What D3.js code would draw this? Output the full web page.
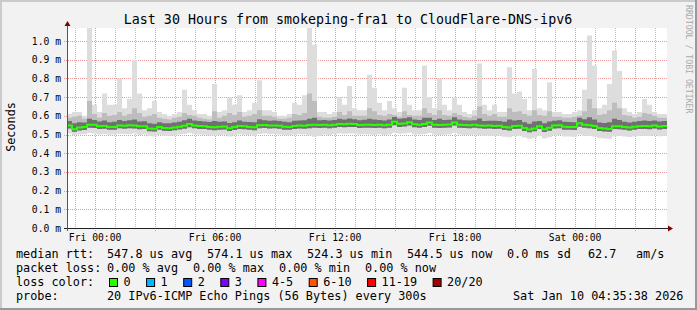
<!DOCTYPE html>
<html>
<head>
<meta charset="utf-8">
<script src="https://cdn.jsdelivr.net/npm/d3@7"></script>
<style>
body { margin: 0; background: #f2f2f2; }
text { font-family: "DejaVu Sans Mono", monospace; white-space: pre; }
</style>
</head>
<body>
<script>
// ping data, one value per 15 minutes, in microseconds
var medianUs = [548,528,538,540,553,552,545,546,541,540,
  549,547,550,549,544,545,532,531,540,535,
  534,538,542,547,556,549,546,545,541,539,
  542,543,534,540,546,544,541,539,550,551,
  548,549,547,542,541,546,548,547,551,552,
  551,553,550,552,556,555,558,557,551,553,
  552,551,553,550,552,568,558,559,566,555,
  553,556,564,553,551,552,554,565,553,551,
  550,552,549,547,548,546,547,540,538,546,
  547,535,527,532,545,528,536,548,550,542,
  541,540,561,552,550,546,535,532,530,545,
  544,541,538,542,545,546,544,548,543,546];

var minUs = [505,498,500,502,508,506,500,503,499,500,
  504,503,502,505,498,500,492,490,497,494,
  493,496,500,503,508,502,500,499,496,495,
  498,499,490,496,501,499,497,494,503,505,
  502,503,500,496,495,500,502,500,495,488,
  492,500,498,502,505,504,506,505,500,502,
  500,498,502,498,500,508,504,505,510,502,
  500,503,508,500,498,499,501,509,500,498,
  497,499,496,494,495,493,494,488,486,494,
  495,484,478,483,492,479,486,495,497,490,
  489,488,500,494,492,490,482,479,478,490,
  492,489,487,490,493,494,492,496,491,494];

var p25Us = [532,515,522,524,536,535,530,531,526,525,
  533,531,534,532,528,529,518,516,525,520,
  519,523,527,531,539,533,530,529,525,523,
  526,527,519,524,530,528,525,523,534,535,
  532,533,531,526,525,530,532,531,534,536,
  535,537,534,536,540,539,541,540,535,537,
  536,535,537,534,536,550,541,543,549,539,
  537,540,547,537,535,536,538,548,537,535,
  534,536,533,531,532,530,531,524,522,530,
  531,519,512,517,529,513,520,532,534,526,
  525,524,542,536,534,530,519,516,515,529,
  528,525,522,526,529,530,528,532,527,530];

var p75Us = [572,560,566,565,585,578,570,575,566,568,
  578,572,576,580,570,571,560,558,566,561,
  560,565,568,576,584,575,572,570,567,572,
  568,570,562,566,575,569,567,566,582,577,
  574,575,572,568,566,574,575,576,585,590,
  576,578,575,578,584,580,586,582,577,579,
  584,580,578,575,580,594,584,587,592,580,
  578,590,590,578,585,578,579,592,580,576,
  575,577,586,573,574,574,572,568,580,575,
  578,566,558,570,572,560,570,574,576,568,
  567,566,590,582,592,580,565,562,566,585,
  578,568,565,568,573,575,572,575,570,572];

var p90Us = [590,595,600,585,680,610,590,615,600,605,
  620,600,610,640,615,595,600,610,590,585,
  580,590,595,615,605,600,590,585,580,625,
  590,600,615,605,620,595,600,610,630,600,
  600,595,585,585,590,610,605,615,720,680,
  595,590,590,595,620,605,625,600,600,600,
  640,625,605,600,610,605,595,625,605,600,
  600,640,615,605,630,605,600,615,605,595,
  590,600,650,610,600,610,595,595,640,620,
  625,610,600,630,605,600,625,595,595,590,
  590,595,600,625,690,640,605,610,630,670,
  640,605,600,590,595,615,610,600,590,590];

var maxUs = [610,620,620,600,1080,660,620,720,660,660,
  800,640,690,900,720,630,640,680,620,610,
  600,610,620,740,660,630,610,610,600,770,
  620,630,700,660,710,620,630,670,790,630,
  630,620,600,600,610,670,660,710,1080,980,
  620,620,610,620,700,660,760,640,630,630,
  820,750,670,630,680,640,620,750,660,630,
  630,870,700,640,800,660,630,700,660,620,
  610,630,880,660,630,660,620,620,860,720,
  730,690,630,850,640,630,780,620,620,610,
  610,620,630,740,1030,870,640,660,770,950,
  840,640,620,610,620,690,660,620,610,610];

var yTicks = [0, 0.1, 0.2, 0.3, 0.4, 0.5, 0.6, 0.7, 0.8, 0.9, 1.0];

var titleText = "Last 30 Hours from smokeping-fra1 to CloudFlare-DNS-ipv6";
var rttStats = ["547.8 us avg", "574.1 us max", "524.3 us min", "544.5 us now", "0.0 ms sd", "62.7", "am/s"];
var lossStats = ["0.00 % avg", "0.00 % max", "0.00 % min", "0.00 % now"];
var lossLabels = ["0", "1", "2", "3", "4-5", "6-10", "11-19", "20/20"];
var lossColors = ["#26ff00", "#00b8ff", "#0059ff", "#7e00ff", "#ff00ff", "#ff5500", "#ff0000", "#a10000"];
var probeText = "20 IPv6-ICMP Echo Pings (56 Bytes) every 300s";
var dateText = "Sat Jan 10 04:35:38 2026";

var width = 697, height = 310;
var plotL = 67, plotR = 667, plotT = 28, plotB = 228;
var cw = 7.1; // legend char width

var start = Date.UTC(2026, 0, 8, 22, 35, 38),
    end = Date.UTC(2026, 0, 10, 4, 35, 38),
    step = 15 * 60 * 1000;

var x = d3.scaleUtc().domain([start, end]).range([plotL, plotR]);
var y = d3.scaleLinear().domain([0, 1.07]).range([plotB, plotT]);

var rows = medianUs.map(function(d, i) {
    return {t: start + i * step, med: d / 1000, min: minUs[i] / 1000, p25: p25Us[i] / 1000,
        p75: p75Us[i] / 1000, p90: p90Us[i] / 1000, max: maxUs[i] / 1000};
});
// close the last step
var last = Object.assign({}, rows[rows.length - 1]);
last.t = start + rows.length * step;
rows.push(last);

var svg = d3.select("body").append("svg")
    .attr("width", width)
    .attr("height", height);

// background and 3d frame
svg.append("rect").attr("width", width).attr("height", height).attr("fill", "#f2f2f2");
svg.append("rect").attr("x", 0).attr("y", 0).attr("width", width).attr("height", 2).attr("fill", "#cbcbcb");
svg.append("rect").attr("x", 0).attr("y", 0).attr("width", 2).attr("height", height).attr("fill", "#cbcbcb");
svg.append("rect").attr("x", 0).attr("y", height - 2).attr("width", width).attr("height", 2).attr("fill", "#999");
svg.append("rect").attr("x", width - 2).attr("y", 0).attr("width", 2).attr("height", height).attr("fill", "#999");

svg.append("rect").attr("x", plotL).attr("y", plotT)
    .attr("width", plotR - plotL).attr("height", plotB - plotT).attr("fill", "#fff");

svg.append("defs").append("clipPath").attr("id", "plot")
    .append("rect").attr("x", plotL).attr("y", plotT).attr("width", plotR - plotL).attr("height", plotB - plotT);

// grid
var hours = x.ticks(d3.utcHour.every(1));
var majors = x.ticks(d3.utcHour.every(3)).map(Number);
var grid = svg.append("g");
grid.selectAll(".vmin").data(hours.filter(function(d) { return majors.indexOf(+d) < 0; }))
    .enter().append("line")
    .attr("x1", function(d) { return Math.round(x(d)) + 0.5; })
    .attr("x2", function(d) { return Math.round(x(d)) + 0.5; })
    .attr("y1", plotT).attr("y2", plotB + 2)
    .attr("stroke", "#bdbdbd").attr("stroke-dasharray", "1,1");
grid.selectAll(".vmaj").data(majors)
    .enter().append("line")
    .attr("x1", function(d) { return Math.round(x(d)) + 0.5; })
    .attr("x2", function(d) { return Math.round(x(d)) + 0.5; })
    .attr("y1", plotT).attr("y2", plotB + 3)
    .attr("stroke", "#eb9a9a").attr("stroke-dasharray", "1,1");
grid.selectAll(".hmaj").data(yTicks.slice(1))
    .enter().append("line")
    .attr("x1", plotL - 3).attr("x2", plotR)
    .attr("y1", function(d) { return Math.round(y(d)) + 0.5; })
    .attr("y2", function(d) { return Math.round(y(d)) + 0.5; })
    .attr("stroke", "#eb9a9a").attr("stroke-dasharray", "1,1");

// smoke
var plot = svg.append("g").attr("clip-path", "url(#plot)");
function band(lo, hi, color) {
    plot.append("path").datum(rows)
        .attr("fill", color)
        .attr("d", d3.area().curve(d3.curveStepAfter)
            .x(function(d) { return x(d.t); })
            .y0(function(d) { return y(d[lo]); })
            .y1(function(d) { return y(d[hi]); }));
}
band("min", "max", "#dddddd");
band("p25", "p90", "#bdbdbd");
band("p25", "p75", "#707070");

plot.append("path").datum(rows)
    .attr("fill", "none")
    .attr("stroke", "#26ff00")
    .attr("stroke-width", 2)
    .attr("d", d3.line().curve(d3.curveStepAfter)
        .x(function(d) { return x(d.t); })
        .y(function(d) { return y(d.med); }));

// axes
svg.append("line").attr("x1", plotL - 3).attr("x2", plotR + 2)
    .attr("y1", plotB + 0.5).attr("y2", plotB + 0.5).attr("stroke", "#222");
svg.append("line").attr("x1", plotL + 0.5).attr("x2", plotL + 0.5)
    .attr("y1", plotB + 3).attr("y2", plotT - 3).attr("stroke", "#555");
svg.append("path").attr("d", "M" + (plotL - 2.5) + "," + (plotT - 2) + "L" + (plotL + 0.5) + "," + (plotT - 7) + "L" + (plotL + 3.5) + "," + (plotT - 2) + "Z")
    .attr("fill", "#7f0000");
svg.append("path").attr("d", "M" + (plotR + 1) + "," + (plotB - 2.5) + "L" + (plotR + 6) + "," + (plotB + 0.5) + "L" + (plotR + 1) + "," + (plotB + 3.5) + "Z")
    .attr("fill", "#7f0000");

svg.selectAll(".ylab").data(yTicks).enter().append("text")
    .attr("x", 61).attr("y", function(d) { return y(d) + 3.5; })
    .attr("text-anchor", "end")
    .style("font-size", "9.7px")
    .text(function(d) { return d3.format(".1f")(d) + " m"; });

svg.selectAll(".xlab").data(x.ticks(d3.utcHour.every(6))).enter().append("text")
    .attr("x", function(d) { return x(d); }).attr("y", 241)
    .attr("text-anchor", "middle")
    .style("font-size", "9.7px")
    .text(d3.utcFormat("%a %H:%M"));

// titles
svg.append("text").attr("x", 348).attr("y", 24).attr("text-anchor", "middle")
    .style("font-size", "13.3px").text(titleText);
svg.append("text").attr("transform", "translate(15,127) rotate(-90)")
    .attr("text-anchor", "middle").style("font-size", "11.8px").text("Seconds");
svg.append("text").attr("transform", "translate(686,5) rotate(90)")
    .style("font-size", "8.2px").attr("fill", "#aaa").text("RRDTOOL / TOBI OETIKER");

// legend
var leg = svg.append("g").style("font-size", "11.8px");
leg.append("text").attr("x", 16).attr("y", 258).text("median rtt:");
var rttX = [107, 207, 307, 407, 507, 588, 636];
rttStats.forEach(function(s, i) {
    leg.append("text").attr("x", rttX[i]).attr("y", 258).text(s);
});
leg.append("text").attr("x", 16).attr("y", 272).text("packet loss:");
lossStats.forEach(function(s, i) {
    leg.append("text").attr("x", 107 + i * 86).attr("y", 272).text(s);
});
leg.append("text").attr("x", 16).attr("y", 286).text("loss color:");
var cx = 109;
lossLabels.forEach(function(s, i) {
    leg.append("rect").attr("x", cx + 0.5).attr("y", 278.5).attr("width", 8).attr("height", 8)
        .attr("fill", lossColors[i]).attr("stroke", "#000");
    leg.append("text").attr("x", cx + 14.5).attr("y", 286).text(s);
    cx = cx + 14.5 + s.length * cw + 15.5;
});
leg.append("text").attr("x", 16).attr("y", 300).text("probe:");
leg.append("text").attr("x", 107).attr("y", 300).text(probeText);
leg.append("text").attr("x", 513).attr("y", 300).text(dateText);
</script>
</body>
</html>
